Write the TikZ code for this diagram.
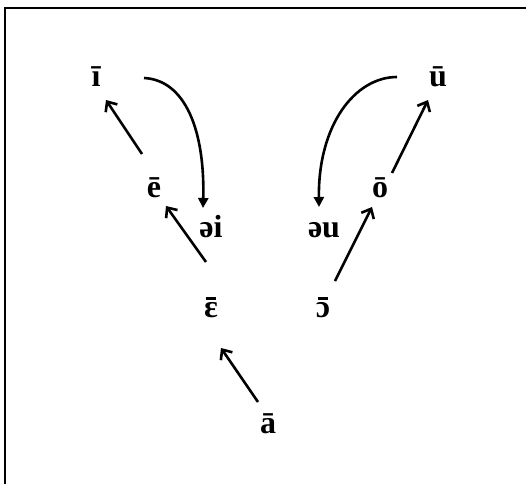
\documentclass[tikz,border=0pt]{standalone}
\usepackage{fontspec}
\setmainfont{Liberation Serif}
\usetikzlibrary{arrows.meta}
\newcommand\macr[1]{\ooalign{#1\cr\hidewidth\rule[0.54em]{0.34em}{0.07em}\hidewidth\cr}}
\begin{document}
\begin{tikzpicture}[x=1pt,y=-1pt,
  lbl/.style={font=\fontsize{32}{36}\selectfont\bfseries, inner sep=0pt, anchor=base},
  up/.style={line width=2.6pt, -{Straight Barb[length=8pt,width=14pt,line width=2.6pt]}},
  curve/.style={line width=2.6pt, -{Triangle[length=10pt,width=10pt]}}]
\useasboundingbox (0,0) rectangle (526,484);
\fill[white] (0,0) rectangle (526,484);
\draw[line width=2pt] (4.5,484) -- (4.5,8.5) -- (526,8.5);
\node[lbl] (i) at (96,87) {ī};
\node[lbl] (e) at (154,197) {ē};
\node[lbl] (ei) at (211,237) {əi};
\node[lbl] (ou) at (324,237) {əu};
\node[lbl] (o) at (380,197) {ō};
\node[lbl] (u) at (438,87) {ū};
\node[lbl] (E) at (211,317) {\macr{ɛ}};
\node[lbl] (O) at (323,317) {\macr{ɔ}};
\node[lbl] (a) at (268,433) {ā};
\coordinate (e1) at (142,154); \coordinate (e2) at (106,100);
\coordinate (E1) at (206,262); \coordinate (E2) at (166,206);
\coordinate (a1) at (258,402); \coordinate (a2) at (221,348);
\coordinate (O1) at (335,281); \coordinate (O2) at (372,207);
\coordinate (o1) at (392,173); \coordinate (o2) at (428,100);
\coordinate (i1) at (144,78); \coordinate (i2) at (203,208);
\coordinate (u1) at (397,77); \coordinate (u2) at (319,207);
\draw[up] (e1) -- (e2);
\draw[up] (E1) -- (E2);
\draw[up] (a1) -- (a2);
\draw[up] (O1) -- (O2);
\draw[up] (o1) -- (o2);
\draw[curve] (i1) .. controls (185,80) and (205,130) .. (i2);
\draw[curve] (u1) .. controls (355,77) and (318,125) .. (u2);
\end{tikzpicture}
\end{document}
